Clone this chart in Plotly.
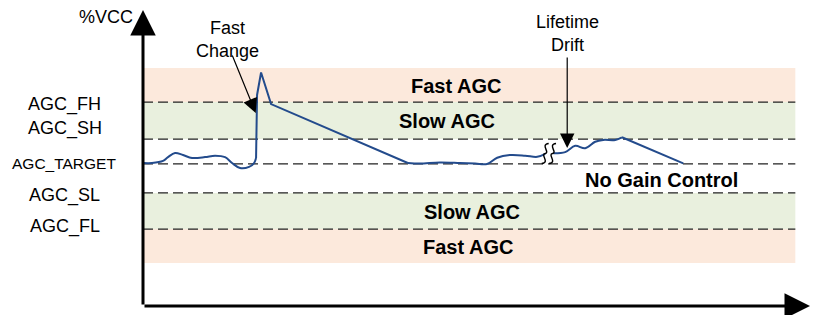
import plotly.graph_objects as go

# ---- data (time 0..100 arbitrary units, level in %VCC scale 0..100) ----
level_names = ["AGC_FH", "AGC_SH", "AGC_TARGET", "AGC_SL", "AGC_FL"]
level_values = [68.9, 56.4, 48.0, 38.2, 26.0]
band_top = 80.4
band_bottom = 14.5
band_end_t = 97.8

# waveform segments
wiggle1_t = [0, 1.35, 3.0, 3.75, 4.8, 6.0, 7.35, 9.3, 10.8, 12.3, 13.35, 14.55, 15.9, 16.65, 16.95]
wiggle1_v = [48.3, 48.3, 49.0, 50.3, 51.7, 51.0, 50.0, 50.3, 50.8, 50.3, 48.3, 46.6, 47.0, 48.3, 50.0]
spike_t = [16.95, 17.1, 17.7, 19.2, 39.7]
spike_v = [50.0, 71.3, 78.9, 68.2, 48.3]
flat_t = [39.7, 41.5, 44.5, 47.5, 49.8, 51.6, 53.1, 55.0, 57.3, 59.1, 60.3]
flat_v = [48.3, 48.1, 48.5, 48.3, 48.1, 48.0, 50.1, 51.0, 50.8, 50.4, 51.4]
drift_t = [61.5, 63.3, 64.8, 66.3, 67.8, 69.0, 70.8, 71.8]
drift_v = [51.6, 52.0, 54.1, 53.3, 55.5, 56.1, 56.1, 57.0]
decay_t = [71.8, 81.0]
decay_v = [57.0, 48.2]
break_t = [60.3, 61.4]
break_v = [51.5, 51.5]

PX_T = 6.67   # pixels per time unit
PX_V = 2.96   # pixels per level unit

FONT = "Liberation Sans, Arial, Helvetica, sans-serif"
LINE_COLOR = "#234B8C"
PEACH = "rgb(252,233,220)"
GREEN = "rgb(233,240,222)"

fig = go.Figure()

for tt, vv, shp in [(wiggle1_t, wiggle1_v, "spline"), (spike_t, spike_v, "linear"),
                    (flat_t, flat_v, "spline"), (drift_t, drift_v, "spline"),
                    (decay_t, decay_v, "linear")]:
    fig.add_trace(go.Scatter(x=tt, y=vv, mode="lines",
                             line=dict(color=LINE_COLOR, width=2, shape=shp),
                             hoverinfo="skip", showlegend=False))

# bands
bands = [(level_values[0], band_top, PEACH), (level_values[1], level_values[0], GREEN),
         (level_values[4], level_values[3], GREEN), (band_bottom, level_values[4], PEACH)]
for y0, y1, c in bands:
    fig.add_shape(type="rect", x0=0, x1=band_end_t, y0=y0, y1=y1, fillcolor=c,
                  line_width=0, layer="below")

# dashed level lines
for v in level_values:
    fig.add_shape(type="line", x0=0, x1=band_end_t, y0=v, y1=v,
                  line=dict(color="#222222", width=1.3, dash="10px,5px"), layer="below")

# break squiggles
for bt, bv in zip(break_t, break_v):
    dx = 3.5 / PX_T
    dy = 10.0 / PX_V
    path = (f"M {bt+dx},{bv+dy} C {bt-1.5*dx},{bv+0.9*dy} {bt+1.5*dx},{bv+0.1*dy} {bt},{bv} "
            f"C {bt-1.5*dx},{bv-0.1*dy} {bt+1.5*dx},{bv-0.9*dy} {bt-dx},{bv-dy}")
    fig.add_shape(type="path", path=path, line=dict(color="black", width=1.4))

ann = []
# axes arrows
ann.append(dict(x=0, y=100, ax=0, ay=0, xref="x", yref="y", axref="x", ayref="y",
                showarrow=True, arrowhead=2, arrowsize=1.7, arrowwidth=3, arrowcolor="black", text=""))
ann.append(dict(x=100, y=0, ax=0, ay=0, xref="x", yref="y", axref="x", ayref="y",
                showarrow=True, arrowhead=2, arrowsize=1.7, arrowwidth=3, arrowcolor="black", text=""))
# callout arrows
ann.append(dict(x=16.9, y=65.2, ax=13.3, ay=85.1, xref="x", yref="y", axref="x", ayref="y",
                showarrow=True, arrowhead=2, arrowsize=2.4, arrowwidth=1.2, arrowcolor="black", text=""))
ann.append(dict(x=63.6, y=53.4, ax=63.6, ay=84.5, xref="x", yref="y", axref="x", ayref="y",
                showarrow=True, arrowhead=2, arrowsize=2.4, arrowwidth=1.2, arrowcolor="black", text=""))

def txt(t, x, y, size, bold=False, xref="x"):
    ann.append(dict(x=x, y=y, xref=xref, yref="y", text=f"<b>{t}</b>" if bold else t,
                    showarrow=False, font=dict(family=FONT, size=size, color="black"),
                    xanchor="center", yanchor="middle"))

txt("%VCC", -0.0555, 97.6, 18, xref="paper")
label_x = [-0.117, -0.117, -0.118, -0.117, -0.117]
label_y = [68.2, 59.8, 48.0, 37.2, 26.7]
label_size = [18, 18, 15.5, 18, 18]
for n, x, y, s in zip(level_names, label_x, label_y, label_size):
    txt(n, x, y, s, xref="paper")

txt("Fast<br>Change", 12.7, 90.2, 18)
txt("Lifetime<br>Drift", 63.7, 91.9, 18)

txt("Fast AGC", 46.9, 74.3, 20, True)
txt("Slow AGC", 45.6, 62.5, 20, True)
txt("No Gain Control", 77.7, 42.6, 20, True)
txt("Slow AGC", 49.3, 31.9, 20, True)
txt("Fast AGC", 48.7, 19.9, 20, True)

fig.update_layout(
    width=820, height=315,
    margin=dict(l=143, r=10, t=10, b=9, autoexpand=False),
    paper_bgcolor="white", plot_bgcolor="white",
    xaxis=dict(range=[0, 100], visible=False, fixedrange=True),
    yaxis=dict(range=[0, 100], visible=False, fixedrange=True),
    annotations=ann, showlegend=False,
)

fig.write_html("out.html", config={"displayModeBar": False},
               post_script="document.body.style.margin='0';document.body.style.overflow='hidden';")
